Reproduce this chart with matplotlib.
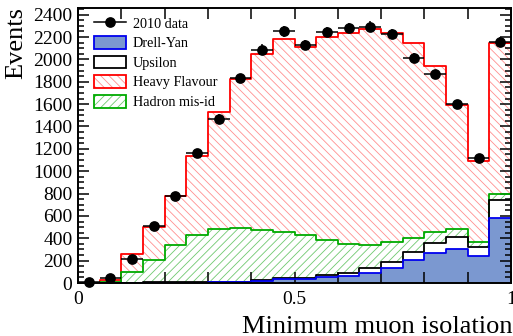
import numpy as np
import matplotlib.pyplot as plt
from matplotlib.patches import Patch
from matplotlib.lines import Line2D
from matplotlib.ticker import MultipleLocator

plt.rcParams['font.family'] = ['Liberation Serif', 'DejaVu Serif']
plt.rcParams['hatch.linewidth'] = 0.6

# 20 bins of width 0.05 in minimum muon isolation
edges = np.linspace(0, 1, 21)
centres = 0.5 * (edges[:-1] + edges[1:])

data_2010 = [5, 45, 215, 510, 782, 1165, 1470, 1830, 2088, 2250,
             2131, 2244, 2280, 2293, 2229, 2011, 1866, 1600, 1117, 2157]
drell_yan = [1, 2, 2, 3, 3, 4, 5, 8, 16, 35,
             38, 50, 60, 87, 134, 209, 266, 305, 238, 585]
upsilon = [0, 1, 2, 2, 3, 3, 3, 2, 14, 10,
           11, 19, 25, 43, 56, 71, 96, 110, 87, 155]
hadron_misid = [0, 7, 90, 201, 337, 426, 475, 480, 440, 411,
                379, 313, 261, 212, 178, 125, 95, 71, 43, 60]
heavy_flavour = [1, 15, 168, 298, 439, 704, 1045, 1336, 1577, 1726,
                 1682, 1823, 1889, 1928, 1867, 1741, 1480, 1108, 724, 1346]

c_dy = np.array(drell_yan, float)
c_ups = c_dy + np.array(upsilon)
c_had = c_ups + np.array(hadron_misid)
c_tot = c_had + np.array(heavy_flavour)

RED, GREEN, BLUE = '#ff0000', '#00aa00', '#0000ee'
RED_H, GREEN_H = '#ff9090', '#70c870'
DY_FILL = '#7b98d0'


def step_y(v):
    return np.append(v, v[-1])


fig = plt.figure(figsize=(5.13, 3.36), dpi=100)
ax = fig.add_axes([78 / 513, 53 / 336, 433 / 513, 275 / 336])

# stacked histograms, drawn from the top of the stack downwards
ax.fill_between(edges, step_y(c_tot), step='post', facecolor='white',
                edgecolor=RED_H, hatch='\\\\\\\\', linewidth=0)
ax.step(edges, step_y(c_tot), where='post', color=RED, lw=1.3)
ax.fill_between(edges, step_y(c_had), step='post', facecolor='white',
                edgecolor=GREEN_H, hatch='////', linewidth=0)
ax.step(edges, step_y(c_had), where='post', color=GREEN, lw=1.3)
ax.fill_between(edges, step_y(c_ups), step='post', facecolor='white', linewidth=0)
ax.step(edges, step_y(c_ups), where='post', color='black', lw=1.3)
ax.fill_between(edges, step_y(c_dy), step='post', facecolor=DY_FILL, linewidth=0)
ax.step(edges, step_y(c_dy), where='post', color=BLUE, lw=1.3)

ax.errorbar(centres, data_2010, xerr=0.025, yerr=np.sqrt(data_2010),
            fmt='o', color='black', ms=6.7, elinewidth=1.1, capsize=0, zorder=5,
            clip_on=False)

ax.set_xlim(0, 1)
ax.set_ylim(0, 2460)
ax.set_xticks([0, 0.5, 1])
ax.set_xticklabels(['0', '0.5', '1'])
ax.xaxis.set_minor_locator(MultipleLocator(0.1))
ax.yaxis.set_major_locator(MultipleLocator(200))
ax.yaxis.set_minor_locator(MultipleLocator(50))
ax.tick_params(which='both', direction='in', top=True, right=True,
               labelsize=14, width=1.1)
ax.tick_params(which='major', length=8, pad=4)
ax.tick_params(which='minor', length=4)
ax.tick_params(axis='x', which='minor', length=8)
ax.tick_params(axis='x', which='major', pad=6)
for s in ax.spines.values():
    s.set_linewidth(1.4)

fig.text(16 / 513, 1 - 7 / 336, 'Events', rotation=90, ha='center', va='top',
         fontsize=19)
fig.text(512 / 513, 3 / 336, 'Minimum muon isolation', ha='right',
         va='baseline', fontsize=19)

handles = [
    Line2D([], [], color='black', marker='o', ms=6.7, lw=1.1),
    Patch(facecolor=DY_FILL, edgecolor=BLUE, lw=1.3),
    Patch(facecolor='white', edgecolor='black', lw=1.3),
    (Patch(facecolor='white', edgecolor=RED_H, hatch='\\\\\\\\', lw=0),
     Patch(facecolor='none', edgecolor=RED, lw=1.3)),
    (Patch(facecolor='white', edgecolor=GREEN_H, hatch='////', lw=0),
     Patch(facecolor='none', edgecolor=GREEN, lw=1.3)),
]
labels = ['2010 data', 'Drell-Yan', 'Upsilon', 'Heavy Flavour', 'Hadron mis-id']
ax.legend(handles, labels, loc='upper left', bbox_to_anchor=(0.015, 1.005),
          frameon=False, fontsize=10.2, handlelength=2.25, handleheight=1.0,
          handletextpad=0.45, labelspacing=0.38, borderpad=0.2)

fig.savefig('out.png', dpi=100)
